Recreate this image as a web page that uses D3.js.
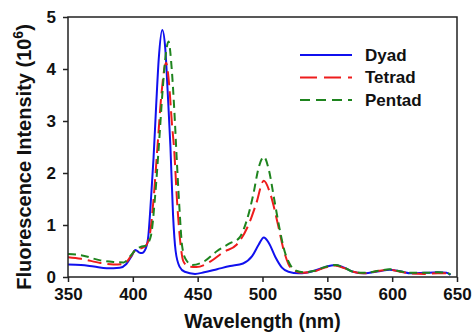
<!DOCTYPE html>
<meta charset="utf-8">
<head>
  <script src="https://d3js.org/d3.v7.min.js"></script>
</head>
<style>
  body { margin: 0; background: #fff; }
  svg { display: block; font-family: "Liberation Sans", Arial, sans-serif; font-weight: bold; }
  .axis path, .axis line { stroke: #222; stroke-width: 1.5px; }
  .axis text { font-size: 17px; font-weight: bold; fill: #111; }
</style>
<body>
<script>
// spectra: wavelength (nm), intensity (10^6)
var dyadX   = [350,360,370,380,390,395,399,402,405,407,410,412,414,416,418,420,422.7,425,427,429,431,433,436,440,448,455,465,475,485,492,497,501,505,510,515,520,528,540,548,556,563,570,578,590,598,606,615,625,635,642,645];
var dyadY   = [0.24,0.23,0.2,0.17,0.18,0.25,0.4,0.52,0.47,0.46,0.55,0.8,1.5,2.3,3.3,4.2,4.75,4.4,3.5,2.5,1.2,0.5,0.2,0.1,0.06,0.09,0.15,0.21,0.26,0.4,0.62,0.76,0.65,0.38,0.18,0.1,0.07,0.12,0.19,0.23,0.18,0.1,0.07,0.11,0.14,0.11,0.07,0.08,0.09,0.08,0.04];

var tetradX = [350,360,375,385,393,398,402,406,410,413,416,419,422,425.6,428,430,432,434,436.5,439,443,449,460,470,480,490,495,501,506,512,516,520,525,530,540,548,556,563,570,578,590,598,606,615,625,635,642,645];
var tetradY = [0.38,0.35,0.27,0.24,0.25,0.38,0.52,0.55,0.6,0.8,1.5,2.5,3.5,4.12,3.7,3.0,2.4,1.5,0.7,0.3,0.2,0.19,0.3,0.48,0.62,1.05,1.4,1.85,1.6,1.0,0.55,0.25,0.12,0.08,0.11,0.18,0.22,0.17,0.1,0.07,0.12,0.14,0.1,0.07,0.06,0.07,0.07,0.04];

var pentadX = [350,360,375,385,393,398,402,406,410,414,417,420,423,425.5,427.5,430,432,434,436,438,441,446,455,465,475,482,488,493,497,501,505,509,513,517,521,526,532,540,548,556,563,570,578,590,598,606,615,625,635,642,645];
var pentadY = [0.44,0.42,0.32,0.29,0.28,0.4,0.52,0.58,0.6,0.8,1.5,2.5,3.6,4.3,4.53,4.0,3.2,2.2,1.3,0.6,0.33,0.23,0.3,0.5,0.65,0.75,1.1,1.6,2.1,2.31,2.05,1.5,0.95,0.5,0.25,0.12,0.09,0.12,0.19,0.23,0.18,0.1,0.08,0.12,0.15,0.11,0.08,0.08,0.09,0.08,0.05];

var seriesNames = ["Dyad", "Tetrad", "Pentad"];
var xTicks = [350, 400, 450, 500, 550, 600, 650];
var yTicks = [0, 1, 2, 3, 4, 5];

var width = 474, height = 335;
var margin = {top: 17, right: 17, bottom: 58, left: 68};

var svg = d3.select("body").append("svg")
  .attr("width", width)
  .attr("height", height);

var x = d3.scaleLinear().domain([350, 650]).range([margin.left, width - margin.right]);
var y = d3.scaleLinear().domain([0, 5]).range([height - margin.bottom, margin.top]);

var series = [
  {name: seriesNames[0], xs: dyadX,   ys: dyadY,   color: "#1010ee", dash: null},
  {name: seriesNames[1], xs: tetradX, ys: tetradY, color: "#ee1c1c", dash: "14,6"},
  {name: seriesNames[2], xs: pentadX, ys: pentadY, color: "#1e841e", dash: "8,5"}
];

var line = d3.line()
  .x(function(d) { return x(d[0]); })
  .y(function(d) { return y(d[1]); })
  .curve(d3.curveMonotoneX);

// curves (drawn back to front so blue sits under the dashed ones)
svg.append("g").selectAll("path")
  .data(series)
 .enter().append("path")
  .attr("fill", "none")
  .attr("stroke", function(d) { return d.color; })
  .attr("stroke-width", 2)
  .attr("stroke-dasharray", function(d) { return d.dash; })
  .attr("d", function(d) { return line(d.xs.map(function(v, i) { return [v, d.ys[i]]; })); });

// frame
svg.append("rect")
  .attr("x", x(350)).attr("y", y(5))
  .attr("width", x(650) - x(350)).attr("height", y(0) - y(5))
  .attr("fill", "none").attr("stroke", "#222").attr("stroke-width", 1.5);

var xAxis = svg.append("g")
  .attr("class", "axis")
  .attr("transform", "translate(0," + y(0) + ")")
  .call(d3.axisBottom(x).tickValues(xTicks).tickFormat(d3.format("d")).tickSize(5).tickPadding(6).tickSizeOuter(0));
xAxis.select(".domain").remove();

var yAxis = svg.append("g")
  .attr("class", "axis")
  .attr("transform", "translate(" + x(350) + ",0)")
  .call(d3.axisLeft(y).tickValues(yTicks).tickFormat(d3.format("d")).tickSize(5).tickPadding(7).tickSizeOuter(0));
yAxis.select(".domain").remove();

// axis titles
svg.append("text")
  .attr("x", (x(350) + x(650)) / 2)
  .attr("y", 328)
  .attr("text-anchor", "middle")
  .style("font-size", "19.5px")
  .attr("fill", "#111")
  .text("Wavelength (nm)");

var yl = svg.append("text")
  .attr("transform", "translate(31," + 157 + ") rotate(-90)")
  .attr("text-anchor", "middle")
  .style("font-size", "20px")
  .attr("fill", "#111");
yl.append("tspan").text("Fluorescence Intensity (10");
yl.append("tspan").attr("baseline-shift", "super").style("font-size", "14px").text("6");
yl.append("tspan").text(")");

// legend
var legend = svg.append("g").selectAll("g")
  .data(series)
 .enter().append("g")
  .attr("transform", function(d, i) { return "translate(300," + (55 + i * 22.5) + ")"; });

legend.append("line")
  .attr("x1", 0).attr("x2", 52)
  .attr("stroke", function(d) { return d.color; })
  .attr("stroke-width", 2)
  .attr("stroke-dasharray", function(d) { return d.name === "Tetrad" ? "17,7" : d.dash ? "10,6" : null; });

legend.append("text")
  .attr("x", 65)
  .attr("dy", "0.35em")
  .style("font-size", "17px")
  .attr("fill", "#111")
  .text(function(d) { return d.name; });
</script>
</body>
